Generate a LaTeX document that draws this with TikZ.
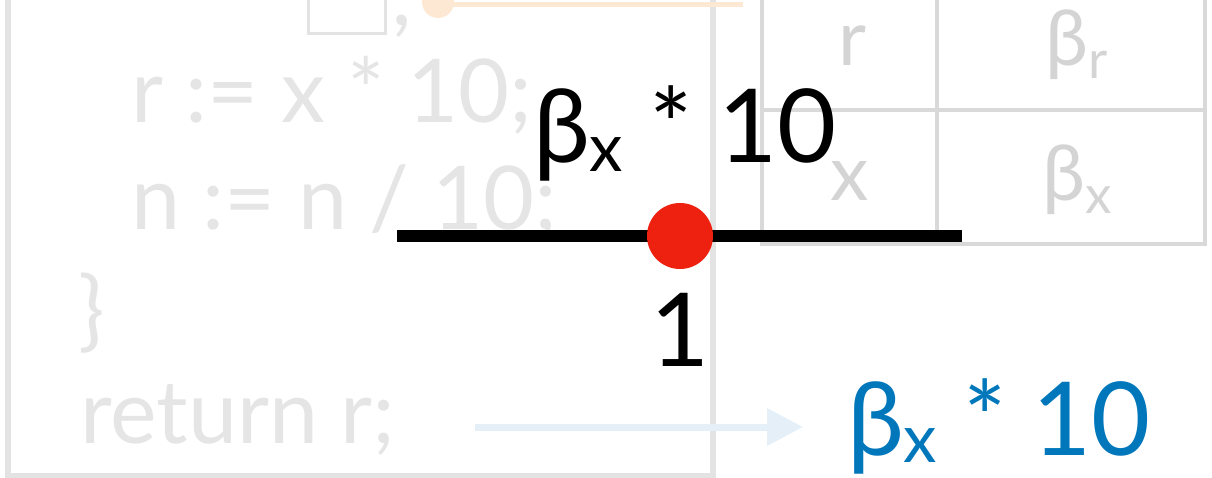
\documentclass[tikz,border=0pt]{standalone}
\usepackage{fontspec}
\setmainfont{Lato}
\usetikzlibrary{arrows.meta}
\definecolor{codegray}{HTML}{E5E5E5}
\definecolor{boxgray}{HTML}{E3E3E3}
\definecolor{tabline}{HTML}{D9D9D9}
\definecolor{tabtext}{HTML}{D4D4D4}
\definecolor{dotred}{HTML}{EE2010}
\definecolor{resblue}{HTML}{0077BB}
\definecolor{arrblue}{HTML}{E4EFF7}
\definecolor{faintorange}{HTML}{FDE9D3}
\newcommand{\fs}[1]{\fontsize{#1}{#1}\selectfont}
\newcommand{\betasub}[3]{β\raisebox{-#2pt}{\fs{#3}#1}}
\begin{document}
\begin{tikzpicture}[x=1pt,y=-1pt,
  txt/.style={inner sep=0pt, outer sep=0pt, anchor=base west},
  codetxt/.style={txt, text=codegray, font=\fs{88}},
  tabtxt/.style={inner sep=0pt, outer sep=0pt, anchor=base, text=tabtext, font=\fs{77}},
  bigtxt/.style={txt, font=\fs{102}},
  codebox/.style={draw=boxgray, line width=6pt},
  tabgrid/.style={draw=tabline, line width=4pt},
  bar/.style={draw=black, line width=12pt},
  flow/.style={draw=arrblue, line width=7pt, -{Triangle[length=36pt,width=36pt]}}
]
\useasboundingbox (0,0) rectangle (1212,478);
% faded code box
\draw[codebox] (8,-20) rectangle (713,476);
\draw[draw=boxgray, line width=3pt] (308,-10) rectangle (385,34);
\node[codetxt] (semi) at (390,26) {;};
% faint orange marker
\draw[draw=faintorange, line width=5pt] (438,5) -- (743,5);
\fill[faintorange] (438,2) circle (16);
\node[codetxt] (l1) at (131,123) {r := x * 10;};
\node[codetxt] (l2) at (131,230) {n := n / 10;};
\node[codetxt] (l3) at (78,340) {\}};
\node[codetxt] (l4) at (80,443) {return r;};
% faded table
\draw[tabgrid] (762,-20) rectangle (1205,244);
\draw[tabgrid] (937,-20) -- (937,244);
\draw[tabgrid] (762,110) -- (1205,110);
\node[tabtxt] (cr) at (853,66) {r};
\node[tabtxt] (cbr) at (1077,66) {\betasub{r}{13}{53}};
\node[tabtxt] (cx) at (850,201) {x};
\node[tabtxt] (cbx) at (1077,201) {\betasub{x}{13}{53}};
% faded arrow
\coordinate (as) at (475,427);
\coordinate (ae) at (803,427);
\draw[flow] (as) -- (ae);
% foreground
\coordinate (bl) at (397,236);
\coordinate (br) at (962,236);
\draw[bar] (bl) -- (br);
\node[circle, fill=dotred, inner sep=0pt, minimum size=66pt] (dot) at (680,236) {};
\node[bigtxt] (top) at (533,163) {\betasub{x}{9}{67} * 10};
\node[inner sep=0pt, outer sep=0pt, anchor=base, font=\fs{102}] (one) at (680,366) {1};
\node[bigtxt, text=resblue] (res) at (847,455) {\betasub{x}{7}{67} * 10};
\end{tikzpicture}
\end{document}
